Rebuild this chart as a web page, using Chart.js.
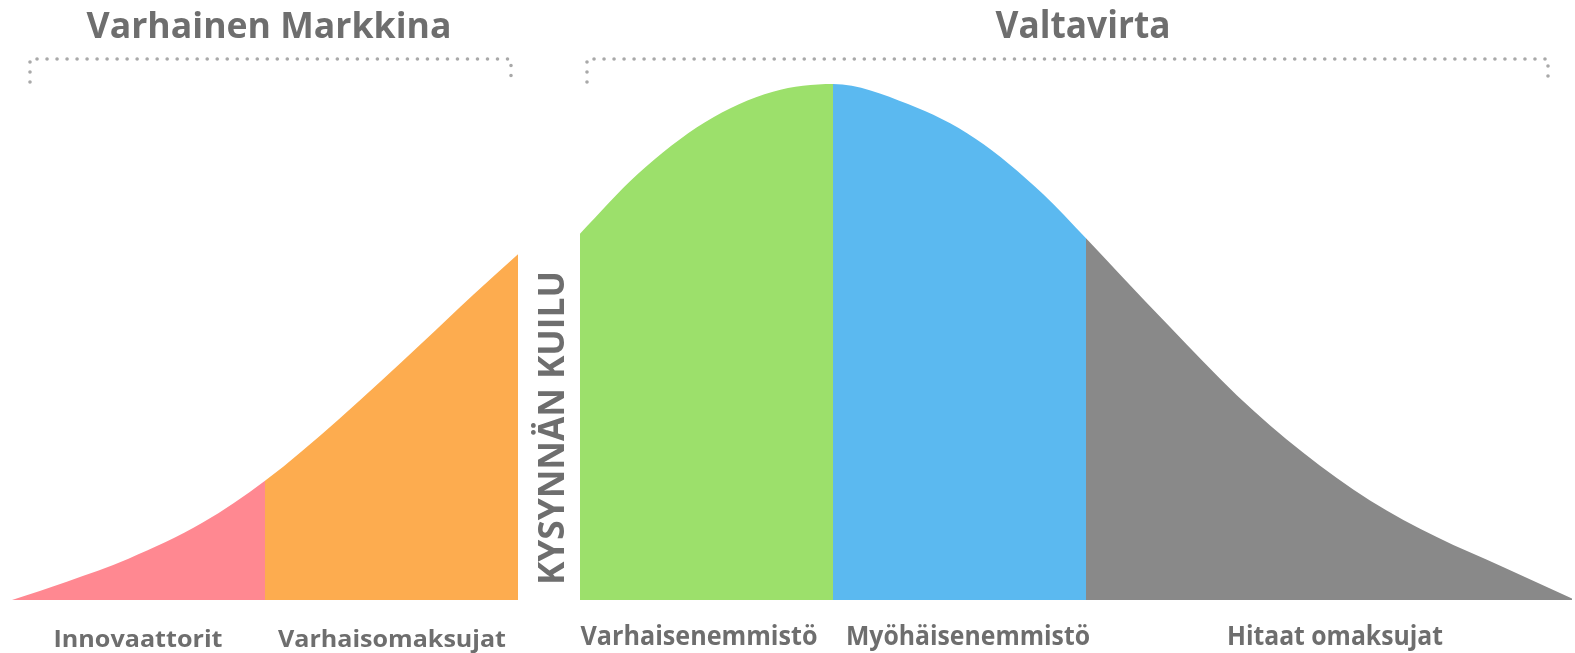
<!DOCTYPE html>
<html>
<head>
<meta charset="utf-8">
<script src="https://cdn.jsdelivr.net/npm/chart.js@4.4.1/dist/chart.umd.min.js"></script>
<style>
  html, body { margin: 0; padding: 0; background: #ffffff; }
  #wrap { position: relative; width: 1575px; height: 653px; }
</style>
</head>
<body>
<div id="wrap"><canvas id="c"></canvas></div>
<script>
// ---- Data (x: position along the adoption axis, 0 = peak; y: % of peak height) ----
const segmentLabels = ['Innovaattorit', 'Varhaisomaksujat', 'Varhaisenemmistö', 'Myöhäisenemmistö', 'Hitaat omaksujat'];
const groupTitles = ['Varhainen Markkina', 'Valtavirta'];
const chasmLabel = 'KYSYNNÄN KUILU';

const innovatorsX      = [-3.284, -3.062, -2.818, -2.521, -2.272];
const innovatorsY      = [0, 3.6, 8.0, 15.0, 23.1];
const earlyAdoptersX   = [-2.272, -1.980, -1.642, -1.440, -1.260];
const earlyAdoptersY   = [23.1, 34.9, 49.9, 59.1, 67.0];
const earlyMajorityX   = [-1.012, -0.782, -0.512, -0.240, 0];
const earlyMajorityY   = [71.0, 82.5, 92.6, 98.5, 100];
const lateMajorityX    = [0, 0.300, 0.570, 0.840, 1.012];
const lateMajorityY    = [100, 96.1, 89.4, 78.7, 70.1];
const laggardsX        = [1.012, 1.148, 1.348, 1.615, 1.880, 2.148, 2.415, 2.680, 2.956];
const laggardsY        = [70.1, 63.1, 52.9, 39.7, 28.6, 19.3, 12.2, 6.4, 0.3];

const segmentColors = ['#ff8891', '#fdac4f', '#9ce06b', '#5bb9f0', '#898989'];

const seriesX = [innovatorsX, earlyAdoptersX, earlyMajorityX, lateMajorityX, laggardsX];
const seriesY = [innovatorsY, earlyAdoptersY, earlyMajorityY, lateMajorityY, laggardsY];

// join consecutive segments into one smooth curve (shared boundary points only once)
function joinSegments(idx) {
  const pts = [];
  idx.forEach((s, k) => {
    seriesX[s].forEach((x, i) => {
      if (k > 0 && i === 0) return;
      pts.push({ x: x, y: seriesY[s][i] });
    });
  });
  return pts;
}
function colorFor(idx) {
  return (c) => {
    const mid = (c.p0.parsed.x + c.p1.parsed.x) / 2;
    for (const s of idx) {
      const xs = seriesX[s];
      if (mid >= xs[0] && mid <= xs[xs.length - 1]) return segmentColors[s];
    }
    return segmentColors[idx[0]];
  };
}
function curveDataset(label, idx) {
  return {
    label: label,
    data: joinSegments(idx),
    backgroundColor: segmentColors[idx[0]],
    borderColor: 'rgba(0,0,0,0)',
    borderWidth: 0,
    pointRadius: 0,
    fill: 'origin',
    cubicInterpolationMode: 'monotone',
    segment: { backgroundColor: colorFor(idx) }
  };
}

const datasets = [
  curveDataset(groupTitles[0], [0, 1]),
  curveDataset(groupTitles[1], [2, 3, 4])
];

const TEXT = '#6e6e6e';
const FONT = '"Open Sans", "Noto Sans", sans-serif';

function drawFit(ctx, text, cx, baseline, size, targetW, rot) {
  ctx.save();
  ctx.font = 'bold ' + size + 'px ' + FONT;
  const w = ctx.measureText(text).width;
  ctx.translate(cx, baseline);
  if (rot) ctx.rotate(rot);
  ctx.scale(targetW / w, 1);
  ctx.textAlign = 'center';
  ctx.textBaseline = 'alphabetic';
  ctx.fillStyle = TEXT;
  ctx.fillText(text, 0, 0);
  ctx.restore();
}

function bracket(ctx, x0, x1, yTop, yBot) {
  ctx.save();
  ctx.strokeStyle = '#a9a9a9';
  ctx.lineWidth = 3.6;
  ctx.lineCap = 'round';
  ctx.lineJoin = 'round';
  ctx.setLineDash([0.01, 10]);
  ctx.beginPath();
  ctx.moveTo(x0, yBot);
  ctx.lineTo(x0, yTop);
  ctx.lineTo(x1, yTop);
  ctx.lineTo(x1, yBot);
  ctx.stroke();
  ctx.restore();
}

const decorations = {
  id: 'decorations',
  afterDraw(chart) {
    const ctx = chart.ctx;
    drawFit(ctx, groupTitles[0], 269, 38, 36, 365);
    drawFit(ctx, groupTitles[1], 1083, 38, 38, 175);
    bracket(ctx, 30, 511, 59, 82);
    bracket(ctx, 587, 1548, 59, 82);
    drawFit(ctx, chasmLabel, 564, 428, 35, 314, -Math.PI / 2);
    drawFit(ctx, segmentLabels[0], 138, 647, 24, 169);
    drawFit(ctx, segmentLabels[1], 392, 647, 24, 228);
    drawFit(ctx, segmentLabels[2], 699, 645, 26, 237);
    drawFit(ctx, segmentLabels[3], 968, 645, 26, 244);
    drawFit(ctx, segmentLabels[4], 1335, 645, 26, 216);
  }
};

new Chart(document.getElementById('c'), {
  type: 'line',
  data: { datasets: datasets },
  options: {
    responsive: true,
    maintainAspectRatio: false,
    animation: false,
    layout: { padding: { left: 12, right: 3, top: 84, bottom: 53 } },
    scales: {
      x: { type: 'linear', min: -3.284, max: 2.956, display: false },
      y: { min: 0, max: 100, display: false }
    },
    plugins: {
      legend: { display: false },
      tooltip: { enabled: false },
      title: { display: false }
    }
  },
  plugins: [decorations]
});
</script>
</body>
</html>
